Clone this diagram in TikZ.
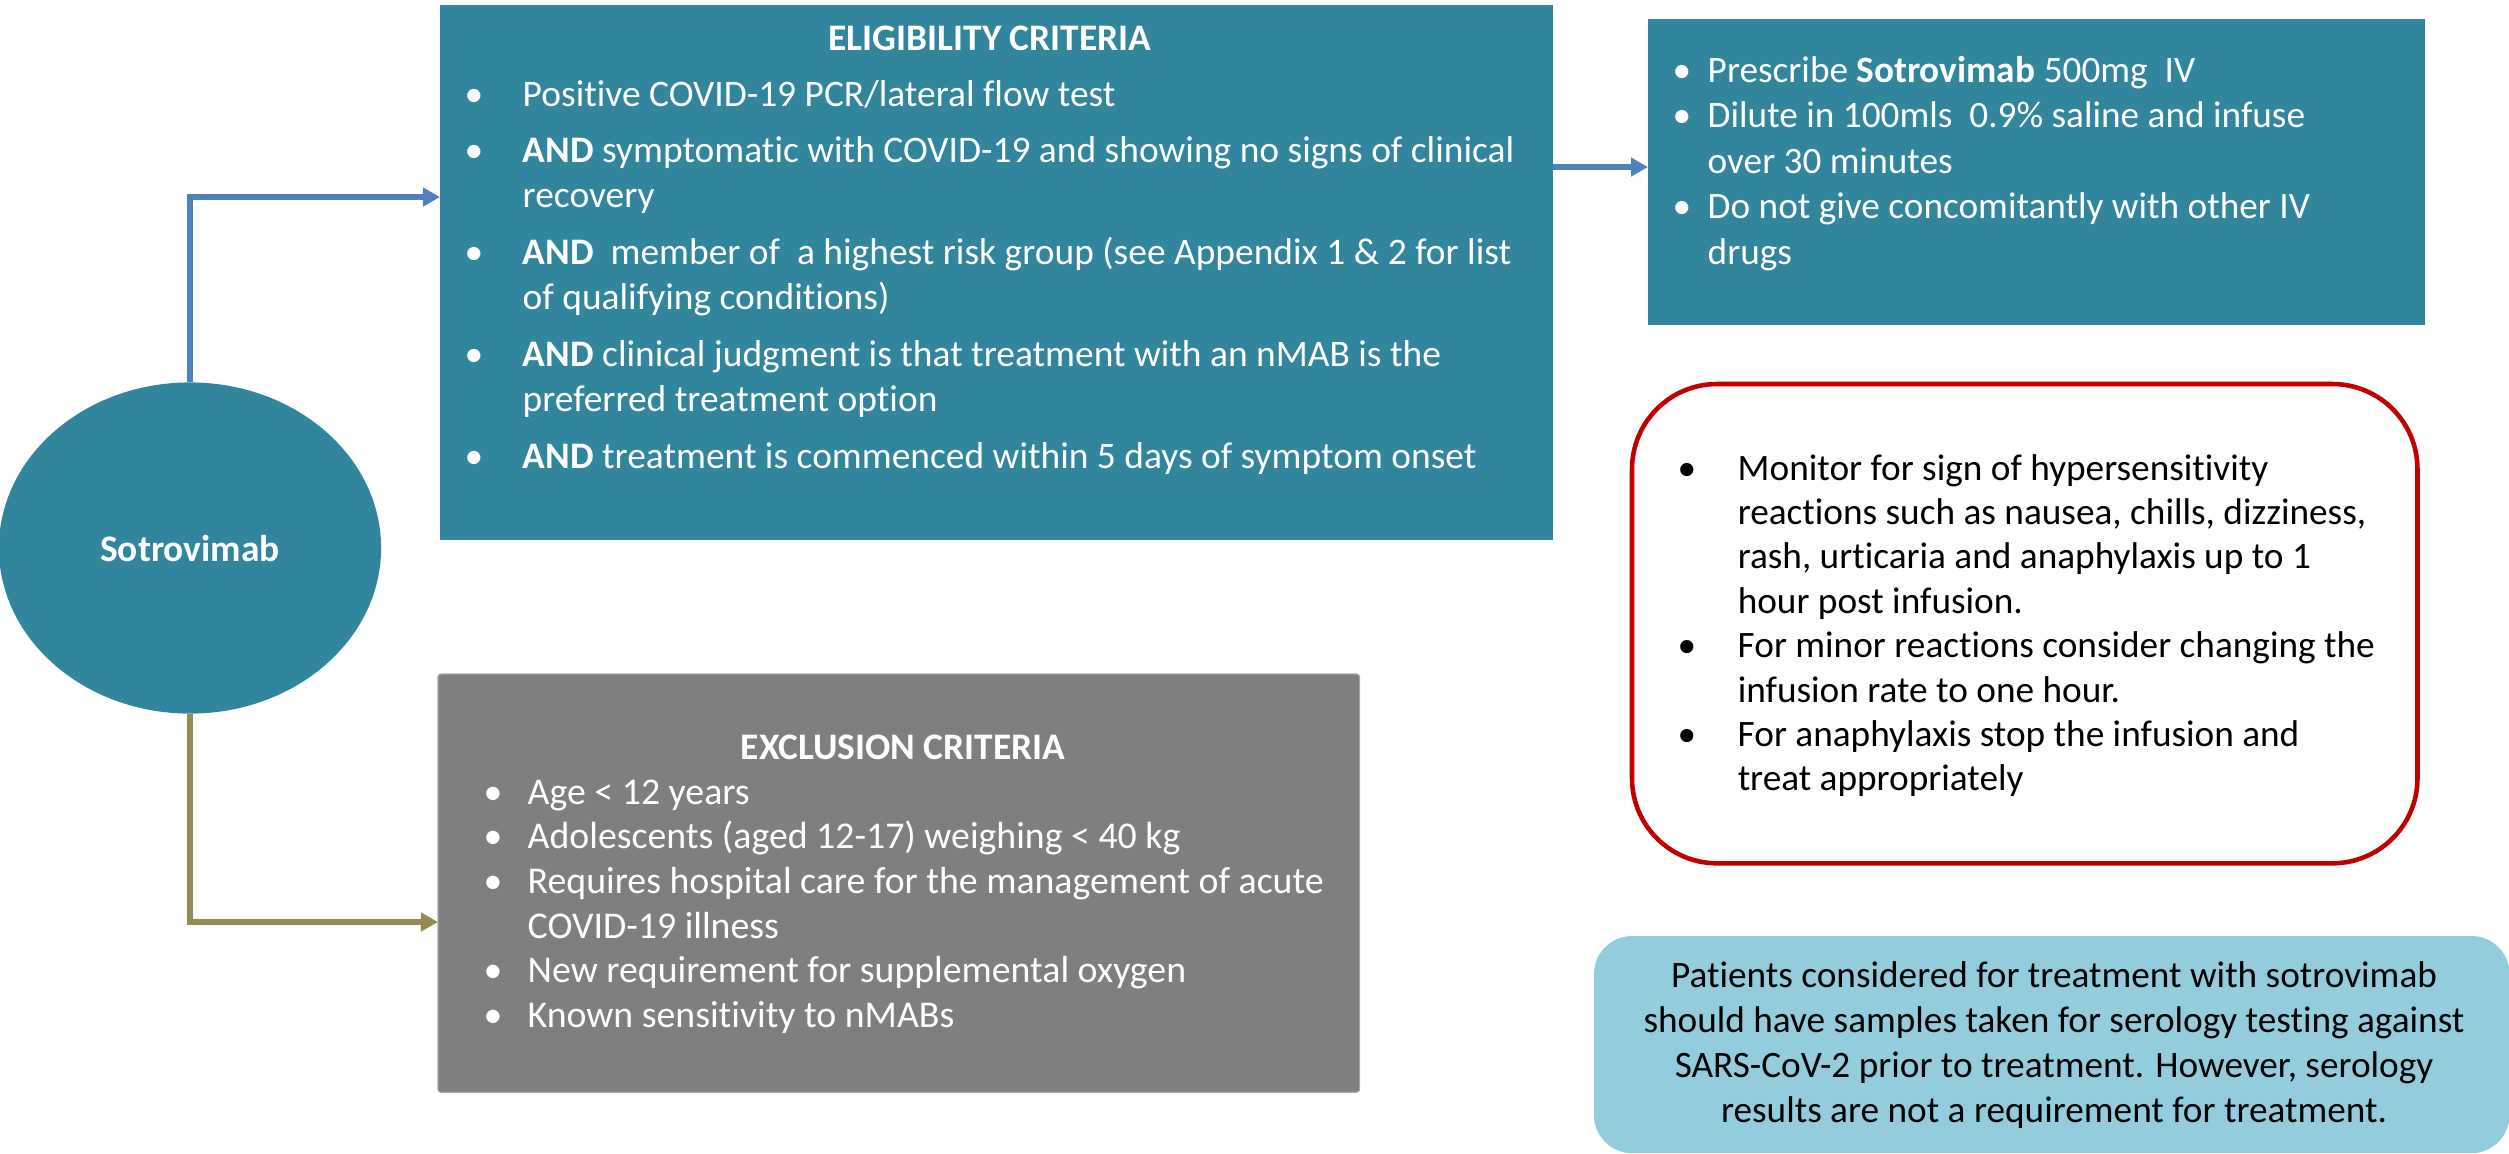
\documentclass[tikz,border=0pt]{standalone}
\usepackage{fontspec}
\setmainfont{Carlito}[Ligatures=NoCommon]
\usetikzlibrary{shapes.geometric,arrows.meta}
\definecolor{cTeal}{HTML}{31859C}
\definecolor{cBlue}{HTML}{4F81BD}
\definecolor{cOlive}{HTML}{948A54}
\definecolor{cGray}{HTML}{7F7F7F}
\definecolor{cGrayLine}{HTML}{A6A6A6}
\definecolor{cRed}{HTML}{C00000}
\definecolor{cLBlue}{HTML}{93CDDD}
\begin{document}
\begin{tikzpicture}[x=0.01cm,y=-0.01cm,
  box/.style={inner sep=0pt, outer sep=0pt, anchor=north west},
  listtxt/.style={inner sep=0pt, anchor=base west},
  title/.style={inner sep=0pt, anchor=base, text=white, font=\fontsize{10.65}{12}\selectfont\bfseries},
  conn/.style={line width=1.55pt, -{Triangle[length=0.17cm,width=0.18cm]}}]
\useasboundingbox (0,0) rectangle (2509,1153);

% central ellipse
\node[ellipse, fill=cTeal, minimum width=3.82cm, minimum height=3.31cm, inner sep=0pt,
      text=white, font=\fontsize{10.65}{12}\selectfont\bfseries] (sot) at (190,548) {Sotrovimab};

% eligibility box
\node[box, fill=cTeal, minimum width=11.12cm, minimum height=5.35cm] (elig) at (440,5) {};
\node[title] (eligt) at (990,50) {ELIGIBILITY CRITERIA};
\node[listtxt, text=white, font=\fontsize{10.65}{13}\selectfont] (eligl) at (464,106) {%
\begin{tabular}[t]{@{}p{0.58cm}@{}l@{}}
\textbullet & Positive COVID-19 PCR/lateral flow test\\[0.105cm]
\textbullet & \textbf{AND} symptomatic with COVID-19 and showing no signs of clinical\\
 & recovery\\[0.105cm]
\textbullet & \textbf{AND}\ \ member of\ \ a highest risk group (see Appendix 1 \& 2 for list\\
 & of qualifying conditions)\\[0.105cm]
\textbullet & \textbf{AND} clinical judgment is that treatment with an nMAB is the\\
 & preferred treatment option\\[0.105cm]
\textbullet & \textbf{AND} treatment is commenced within 5 days of symptom onset
\end{tabular}};

% prescription box
\node[box, fill=cTeal, minimum width=7.77cm, minimum height=3.06cm] (rx) at (1648,19) {};
\node[listtxt, text=white, font=\fontsize{10.6}{12.95}\selectfont] (rxl) at (1672,82) {%
\begin{tabular}[t]{@{}p{0.35cm}@{}l@{}}
\textbullet & Prescribe \textbf{Sotrovimab} 500mg\ \ IV\\
\textbullet & Dilute in 100mls\ \ 0.9\% saline and infuse\\
 & over 30 minutes\\
\textbullet & Do not give concomitantly with other IV\\
 & drugs
\end{tabular}};

% monitoring box
\node[box, draw=cRed, line width=1.3pt, rounded corners=0.85cm, minimum width=7.85cm, minimum height=4.79cm] (mon) at (1632,384) {};
\node[listtxt, text=black, font=\fontsize{10.6}{12.63}\selectfont] (monl) at (1677,480) {%
\begin{tabular}[t]{@{}p{0.60cm}@{}l@{}}
\textbullet & Monitor for sign of hypersensitivity\\
 & reactions such as nausea, chills, dizziness,\\
 & rash, urticaria and anaphylaxis up to 1\\
 & hour post infusion.\\
\textbullet & For minor reactions consider changing the\\
 & infusion rate to one hour.\\
\textbullet & For anaphylaxis stop the infusion and\\
 & treat appropriately
\end{tabular}};

% exclusion box
\node[box, fill=cGray, draw=cGrayLine, line width=0.3pt, rounded corners=0.03cm, minimum width=9.21cm, minimum height=4.18cm] (excl) at (438,674) {};
\node[title] (exclt) at (903,759) {EXCLUSION CRITERIA};
\node[listtxt, text=white, font=\fontsize{10.75}{12.7}\selectfont] (excll) at (483,804) {%
\begin{tabular}[t]{@{}p{0.44cm}@{}l@{}}
\textbullet & Age < 12 years\\
\textbullet & Adolescents (aged 12-17) weighing < 40 kg\\
\textbullet & Requires hospital care for the management of acute\\
 & COVID-19 illness\\
\textbullet & New requirement for supplemental oxygen\\
\textbullet & Known sensitivity to nMABs
\end{tabular}};

% serology note
\node[box, fill=cLBlue, rounded corners=0.38cm, minimum width=9.15cm, minimum height=2.17cm] (note) at (1594,936) {};
\node[inner sep=0pt, anchor=base, text=black, font=\fontsize{10.6}{12.8}\selectfont] (notet) at (2054,987) {%
\begin{tabular}[t]{@{}c@{}}
Patients considered for treatment with sotrovimab\\
should have samples taken for serology testing against\\
SARS-CoV-2 prior to treatment. However, serology\\
results are not a requirement for treatment.
\end{tabular}};

% connectors
\coordinate (elin) at (elig.west |- 0,197);
\coordinate (eout) at (elig.east |- 0,167);
\coordinate (exin) at (excl.west |- 0,922);
\draw[conn, cBlue] (sot.north) |- (elin);
\draw[conn, cBlue] (eout) -- (eout -| rx.west);
\draw[conn, cOlive] (sot.south) |- (exin);
\end{tikzpicture}
\end{document}
